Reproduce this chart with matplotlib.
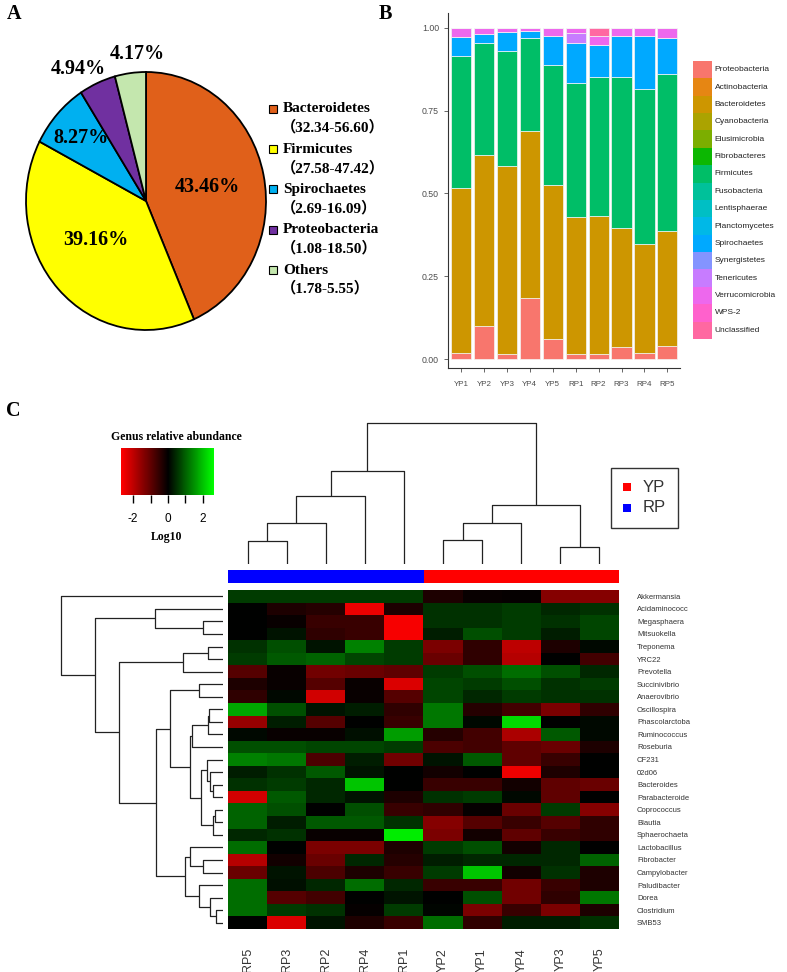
import numpy as np
import matplotlib
matplotlib.use('Agg')
import matplotlib.pyplot as plt
from matplotlib.colors import LinearSegmentedColormap, TwoSlopeNorm
from matplotlib.patches import Rectangle

W, H = 787, 972
SERIF = 'Liberation Serif'
SANS = 'Liberation Sans'

# ---------------- panel A data ----------------
pie_labels = ['Bacteroidetes', 'Firmicutes', 'Spirochaetes', 'Proteobacteria', 'Others']
pie_ranges = ['32.34-56.60', '27.58-47.42', '2.69-16.09', '1.08-18.50', '1.78-5.55']
pie_values = [43.46, 39.16, 8.27, 4.94, 4.17]
pie_colors = ['#E0601A', '#FFFF00', '#00B0F0', '#7030A0', '#C4E7AE']

# ---------------- panel B data ----------------
samples = ['YP1', 'YP2', 'YP3', 'YP4', 'YP5', 'RP1', 'RP2', 'RP3', 'RP4', 'RP5']
phyla = ['Proteobacteria', 'Actinobacteria', 'Bacteroidetes', 'Cyanobacteria',
         'Elusimicrobia', 'Fibrobacteres', 'Firmicutes', 'Fusobacteria',
         'Lentisphaerae', 'Planctomycetes', 'Spirochaetes', 'Synergistetes',
         'Tenericutes', 'Verrucomicrobia', 'WPS-2', 'Unclassified']
phyla_colors = ['#F8766D', '#E68613', '#CD9600', '#ABA300', '#7CAE00', '#0CB702',
                '#00BE67', '#00C19A', '#00BFC4', '#00B8E7', '#00A9FF', '#8494FF',
                '#C77CFF', '#ED68ED', '#FF61CC', '#FF68A1']
proteobacteria = [0.018, 0.099, 0.016, 0.184, 0.060, 0.014, 0.016, 0.035, 0.018, 0.038]
bacteroidetes = [0.499, 0.518, 0.566, 0.506, 0.465, 0.414, 0.417, 0.361, 0.329, 0.348]
firmicutes = [0.399, 0.338, 0.348, 0.278, 0.364, 0.406, 0.419, 0.455, 0.467, 0.476]
spirochaetes = [0.056, 0.028, 0.057, 0.022, 0.088, 0.121, 0.095, 0.124, 0.161, 0.106]
tenericutes = [0, 0, 0, 0, 0, 0.030, 0, 0, 0, 0]
verrucomicrobia = [0.028, 0.017, 0.013, 0.010, 0.023, 0.015, 0.028, 0.025, 0.025, 0.032]
unclassified = [0, 0, 0, 0, 0, 0, 0.025, 0, 0, 0]

# ---------------- panel C data ----------------
col_order = ['RP5', 'RP3', 'RP2', 'RP4', 'RP1', 'YP2', 'YP1', 'YP4', 'YP3', 'YP5']
col_groups = ['RP'] * 5 + ['YP'] * 5
group_colors = {'YP': '#FF0000', 'RP': '#0000FF'}
genera = ['Akkermansia', 'Acidaminococc', 'Megasphaera', 'Mitsuokella', 'Treponema',
          'YRC22', 'Prevotella', 'Succinivibrio', 'Anaerovibrio', 'Oscillospira',
          'Phascolarctoba', 'Ruminococcus', 'Roseburia', 'CF231', '02d06',
          'Bacteroides', 'Parabacteroide', 'Coprococcus', 'Blautia', 'Sphaerochaeta',
          'Lactobacillus', 'Fibrobacter', 'Campylobacter', 'Paludibacter', 'Dorea',
          'Clostridium', 'SMB53']
abundance = np.array([
    [0.6, 0.6, 0.6, 0.6, 0.6, -0.3, -0.1, -0.05, -1.4, -1.4],
    [0.0, -0.3, -0.4, -2.5, -0.3, 0.5, 0.5, 0.6, 0.4, 0.5],
    [0.0, -0.1, -0.6, -0.6, -2.6, 0.5, 0.5, 0.6, 0.5, 0.7],
    [0.0, 0.2, -0.5, -0.6, -2.6, 0.3, 0.8, 0.6, 0.3, 0.7],
    [0.5, 0.8, 0.2, 1.3, 0.6, -1.3, -0.5, -2.0, -0.3, 0.1],
    [0.6, 0.9, 1.0, 0.7, 0.6, -1.1, -0.5, -1.9, 0.0, -0.7],
    [-0.9, -0.1, -1.2, -1.1, -1.0, 0.6, 0.8, 1.1, 0.8, 0.4],
    [-0.3, -0.1, -0.9, -0.1, -2.3, 0.7, 0.6, 0.8, 0.5, 0.6],
    [-0.5, 0.1, -2.2, -0.1, -0.9, 0.7, 0.4, 0.6, 0.5, 0.5],
    [1.7, 0.8, 0.2, 0.3, -0.5, 1.2, -0.4, -0.7, -1.3, -0.5],
    [-1.6, 0.3, -0.9, 0.0, -0.6, 1.2, 0.1, 2.2, 0.0, 0.1],
    [0.1, -0.1, -0.1, 0.15, 1.6, -0.4, -0.7, -1.8, 0.9, 0.1],
    [0.8, 0.8, 0.7, 0.7, 0.6, -0.8, -0.7, -1.0, -1.1, -0.3],
    [1.3, 1.2, -0.8, 0.3, -1.2, 0.2, 0.9, -1.0, -0.6, 0.0],
    [0.3, 0.5, 0.9, 0.2, 0.0, -0.2, 0.0, -2.5, -0.3, 0.0],
    [0.5, 0.6, 0.4, 2.0, 0.0, -0.6, -0.6, -0.2, -1.0, -1.1],
    [-2.2, 0.9, 0.4, 0.2, -0.3, 0.5, 0.6, 0.1, -1.0, 0.0],
    [1.0, 0.8, 0.0, 0.8, -0.6, -0.5, -0.05, -1.1, 0.6, -1.4],
    [1.0, 0.3, 0.9, 0.9, 0.5, -1.4, -0.9, -0.6, -0.9, -0.5],
    [0.4, 0.5, -0.1, -0.1, 2.4, -1.3, -0.2, -1.0, -0.6, -0.5],
    [1.1, 0.0, -1.3, -1.3, -0.3, 0.6, 0.8, -0.2, 0.4, 0.0],
    [-1.9, -0.2, -1.1, 0.4, -0.4, 0.3, 0.4, 0.4, 0.4, 1.0],
    [-1.1, 0.2, -0.8, -0.3, -0.6, 0.6, 2.0, -0.2, 0.5, -0.3],
    [1.1, 0.15, 0.4, 1.1, 0.4, -0.6, -0.6, -1.2, -0.6, -0.3],
    [1.1, -0.9, -0.7, 0.0, 0.2, 0.0, 0.8, -1.2, -0.5, 1.2],
    [1.1, 0.6, 0.5, -0.05, 0.6, 0.05, -1.3, -0.6, -1.3, -0.3],
    [0.0, -2.3, 0.2, -0.3, -0.6, 1.1, -0.5, 0.3, 0.3, 0.5],
])

# column tree: (left, right, height); leaves are positions in col_order
c01 = (0, 1, 23)
c012 = (c01, 2, 41)
c0123 = (c012, 3, 68)
c_rp = (c0123, 4, 93)
c56 = (5, 6, 24)
c567 = (c56, 7, 41)
c89 = (8, 9, 17)
c_yp = (c567, c89, 59)
col_tree = (c_rp, c_yp, 141)

# row tree; leaves are row positions in genera
r34 = (2, 3, 20.0)
rA = (1, r34, 68.3)
r56 = (4, 5, 15.0)
rC = (r56, 6, 40.0)
r89 = (7, 8, 24.3)
r1011 = (9, 10, 14.0)
r1012 = (r1011, 11, 15.0)
r1013 = (r1012, 12, 30.7)
r1617 = (15, 16, 10.0)
r1517 = (14, r1617, 12.7)
r1417 = (13, r1517, 16.0)
r1819 = (17, 18, 8.3)
r1820 = (r1819, 19, 10.0)
r1420 = (r1417, r1820, 21.7)
r1020 = (r1013, r1420, 32.7)
rE = (r89, r1020, 53.3)
r2223 = (21, 22, 20.0)
r2123 = (20, r2223, 32.7)
r2627 = (25, 26, 7.3)
r2527 = (24, r2627, 13.3)
r2427 = (23, r2527, 24.3)
rF = (r2123, r2427, 38.3)
rD = (rE, rF, 66.7)
rB = (rC, rD, 104.0)
rAB = (rA, rB, 127.7)
row_tree = (0, rAB, 161.7)


fig = plt.figure(figsize=(W / 100, H / 100), dpi=100)


def px_axes(x0, y0, x1, y1):
    return fig.add_axes([x0 / W, 1 - y1 / H, (x1 - x0) / W, (y1 - y0) / H])


def fx(x):
    return x / W


def fy(y):
    return 1 - y / H


def draw_tree(ax, node, vertical=True):
    if isinstance(node, int):
        return node, 0.0
    a, b, h = node
    pa, ha = draw_tree(ax, a, vertical)
    pb, hb = draw_tree(ax, b, vertical)
    xs = [pa, pa, pb, pb]
    ys = [ha, h, h, hb]
    if vertical:
        ax.plot(xs, ys, color='#222222', lw=0.9, solid_capstyle='butt')
    else:
        ax.plot(ys, xs, color='#222222', lw=0.9, solid_capstyle='butt')
    return (pa + pb) / 2, h


# panel letters
for letter, x, y in [('A', 7, 19), ('B', 379, 19), ('C', 6, 416)]:
    fig.text(fx(x), fy(y), letter, fontsize=14.5, fontweight='bold', family=SERIF,
             va='baseline')

# ---------------- A: pie ----------------
axp = px_axes(26, 72, 266, 330)
wedges, _ = axp.pie(pie_values, colors=pie_colors, startangle=90, counterclock=False,
                    wedgeprops=dict(edgecolor='black', linewidth=1.3))
axp.set_aspect('auto')
axp.set_xlim(-1, 1)
axp.set_ylim(-1, 1)
for w in wedges:
    w.set_clip_on(False)
label_r = [0.52, 0.52, 0.73, 1.17, 1.14]
label_shift = [0, -7, 0, 5, -4]
for w, v, r, s in zip(wedges, pie_values, label_r, label_shift):
    ang = np.deg2rad((w.theta1 + w.theta2) / 2 + s)
    axp.text(r * np.cos(ang), r * np.sin(ang), f'{v:.2f}%', ha='center', va='center',
             fontsize=14.5, fontweight='bold', family=SERIF, clip_on=False)

for i, (name, rng, col) in enumerate(zip(pie_labels, pie_ranges, pie_colors)):
    y = 109 + 40.25 * i
    fig.add_artist(Rectangle((fx(269), fy(y + 4)), 8 / W, 8 / H, transform=fig.transFigure,
                             facecolor=col, edgecolor='black', lw=0.8))
    fig.text(fx(283), fy(y), name, va='center', ha='left', fontsize=11,
             fontweight='bold', family=SERIF)
    fig.text(fx(281), fy(y + 18.5), '\uff08' + rng + '\uff09', va='center', ha='left',
             fontsize=11, fontweight='bold', family=[SERIF, 'Noto Sans CJK SC'])

# ---------------- B: stacked bars ----------------
series = {'Proteobacteria': proteobacteria, 'Bacteroidetes': bacteroidetes,
          'Firmicutes': firmicutes, 'Spirochaetes': spirochaetes,
          'Tenericutes': tenericutes, 'Verrucomicrobia': verrucomicrobia,
          'Unclassified': unclassified}
axb = px_axes(448, 13, 680, 368)
xpos = np.arange(len(samples))
bottom = np.zeros(len(samples))
for name, col in zip(phyla, phyla_colors):
    vals = np.array(series.get(name, np.zeros(len(samples))), dtype=float)
    axb.bar(xpos, vals, bottom=bottom, width=0.88, color=col, edgecolor='#F4F4F4',
            linewidth=0.5)
    bottom += vals
axb.set_xlim(-0.57, 9.55)
axb.set_ylim(-0.027, 1.045)
for s in ['top', 'right']:
    axb.spines[s].set_visible(False)
for s in ['left', 'bottom']:
    axb.spines[s].set_color('#333333')
    axb.spines[s].set_linewidth(0.8)
axb.set_yticks([0, 0.25, 0.5, 0.75, 1.0])
axb.set_yticklabels(['0.00', '0.25', '0.50', '0.75', '1.00'], family=SANS)
axb.set_xticks(xpos)
axb.set_xticklabels(samples, family=SANS)
axb.tick_params(axis='y', labelsize=6.3, colors='#4D4D4D', length=3, width=0.6)
axb.tick_params(axis='x', labelsize=5.8, colors='#4D4D4D', length=3, width=0.6, pad=6)

axl = px_axes(693, 61, 712, 339)
axl.barh(np.arange(len(phyla)), np.ones(len(phyla)), height=1.0, color=phyla_colors)
axl.set_ylim(len(phyla) - 0.5, -0.5)
axl.set_xlim(0, 1)
axl.axis('off')
for i, name in enumerate(phyla):
    axl.text(1.15, i, name, va='center', ha='left', fontsize=6, family=SANS,
             color='#222222')

# ---------------- C: heatmap ----------------
cmap = LinearSegmentedColormap.from_list('rkg', ['#FF0000', '#000000', '#00FF00'])
norm = TwoSlopeNorm(vmin=-2.7, vcenter=0, vmax=2.6)

axh = px_axes(228, 590, 619, 929)
axh.imshow(abundance, cmap=cmap, norm=norm, aspect='auto', interpolation='nearest')
axh.set_yticks(np.arange(len(genera)))
axh.set_yticklabels(genera, family=SANS, color='#333333')
axh.tick_params(axis='y', left=False, right=False, labelleft=False, labelright=True,
                labelsize=5.5, pad=9.4)
axh.set_xticks(np.arange(len(col_order)))
axh.set_xticklabels(col_order, rotation=90, family=SANS, color='#333333')
axh.tick_params(axis='x', bottom=False, labelsize=9, pad=10)
for s in axh.spines.values():
    s.set_visible(False)

axr = px_axes(50, 590, 223, 929)
draw_tree(axr, row_tree, vertical=False)
axr.set_ylim(len(genera) - 0.5, -0.5)
axr.set_xlim(173, 0)
axr.axis('off')

axc = px_axes(228, 420, 619, 564)
draw_tree(axc, col_tree, vertical=True)
axc.set_xlim(-0.5, len(col_order) - 0.5)
axc.set_ylim(0, 144)
axc.axis('off')

axg = px_axes(228, 570, 619, 583)
axg.bar(np.arange(len(col_order)), np.ones(len(col_order)), width=1.0,
        color=[group_colors[g] for g in col_groups])
axg.set_xlim(-0.5, len(col_order) - 0.5)
axg.set_ylim(0, 1)
axg.axis('off')

# group legend
fig.add_artist(Rectangle((fx(611), fy(528)), 67 / W, 60 / H, transform=fig.transFigure,
                         facecolor='white', edgecolor='#333333', lw=1))
for i, g in enumerate(['YP', 'RP']):
    y = 487 + 21 * i
    fig.add_artist(Rectangle((fx(623), fy(y + 4)), 8 / W, 8 / H, transform=fig.transFigure,
                             facecolor=group_colors[g], edgecolor='none'))
    fig.text(fx(643), fy(y), g, va='center', ha='left', fontsize=12, family=SANS,
             color='#333333')

# colour key
axcb = px_axes(121, 448, 213, 495)
grad = np.linspace(-2.7, 2.6, 256)[None, :]
axcb.imshow(grad, cmap=cmap, norm=norm, aspect='auto', extent=[-2.7, 2.6, 0, 1])
axcb.set_xticks([-2, -1, 0, 1, 2])
axcb.set_xticklabels(['-2', '', '0', '', '2'], family=SANS)
axcb.set_yticks([])
axcb.tick_params(axis='x', length=5.8, width=1, labelsize=8.5, pad=7)
for s in axcb.spines.values():
    s.set_visible(False)
fig.text(fx(176), fy(437), 'Genus relative abundance', ha='center', va='center',
         fontsize=8.5, fontweight='bold', family=SERIF)
fig.text(fx(167), fy(537), 'Log10', ha='center', va='center', fontsize=8.5,
         fontweight='bold', family=SERIF)

fig.savefig('out.png', dpi=100)
